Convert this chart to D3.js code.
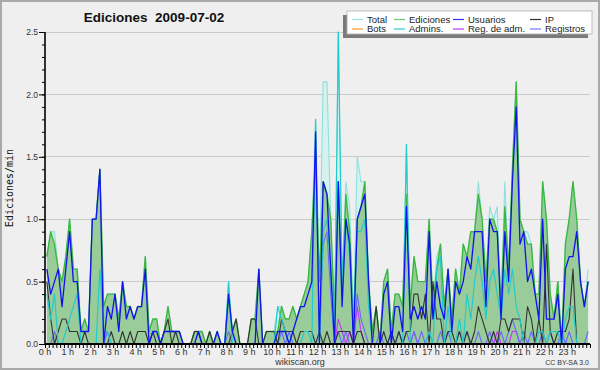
<!DOCTYPE html>
<html><head><meta charset="utf-8">
<script src="https://cdn.jsdelivr.net/npm/d3@7/dist/d3.min.js"></script>
<style>
html,body{margin:0;padding:0;background:#efefef;}
svg{display:block;}
text{font-family:"Liberation Sans",Arial,sans-serif;}
</style></head><body>
<svg id="c" width="600" height="370"></svg>
<script>
// ---- data: 144 ten-minute intervals, edits per minute ----
const hourLabels = ["0 h","1 h","2 h","3 h","4 h","5 h","6 h","7 h","8 h","9 h","10 h","11 h",
  "12 h","13 h","14 h","15 h","16 h","17 h","18 h","19 h","20 h","21 h","22 h","23 h"];
const yTickValues = [0.0, 0.5, 1.0, 1.5, 2.0, 2.5];
const seriesNames = ["Total","Ediciones","Usuarios","IP","Bots","Admins.","Reg. de adm.","Registros"];

const total = [
 0.7,0.9,0.9,0.6,0.5,0.7, 1.0,0.6,0.6,0.1,0.2,0.1, 1.0,1.0,1.4,0.3,0.4,0.4, 0.4,0.2,0.5,0.3,0.3,0.2,
 0.3,0.3,0.7,0.1,0.2,0.2, 0.0,0.1,0.3,0.1,0.1,0.1, 0.0,0.0,0.0,0.1,0.1,0.1, 0.0,0.1,0.0,0.1,0.0,0.0,
 0.5,0.1,0.2,0.0,0.0,0.0, 0.2,0.2,0.6,0.0,0.1,0.1, 0.1,0.3,0.3,0.2,0.2,0.3, 0.2,0.3,0.4,0.5,0.9,1.8,
 0.5,2.1,2.1,1.0,0.2,2.5, 0.5,1.3,1.1,0.2,1.5,1.3, 1.3,0.5,0.1,0.3,0.0,0.5, 0.6,0.1,0.4,0.4,0.3,1.6,
 0.3,0.7,0.5,0.5,0.5,1.0, 0.3,0.7,0.8,0.3,0.6,0.2, 0.6,0.4,0.8,0.7,0.9,0.9, 1.3,1.0,0.5,1.1,1.0,1.1,
 0.3,1.3,0.6,1.4,2.1,1.0, 0.9,0.9,0.8,0.4,0.4,1.3, 1.0,0.4,0.2,0.5,0.0,0.8, 1.0,1.3,1.0,0.5,0.3,0.6];

const ediciones = [
 0.7,0.9,0.8,0.6,0.5,0.7, 1.0,0.6,0.6,0.1,0.2,0.1, 1.0,1.0,1.4,0.3,0.4,0.4, 0.4,0.2,0.5,0.3,0.3,0.2,
 0.3,0.3,0.7,0.1,0.2,0.2, 0.0,0.1,0.3,0.1,0.1,0.1, 0.0,0.0,0.0,0.1,0.1,0.1, 0.0,0.1,0.0,0.1,0.0,0.0,
 0.4,0.1,0.2,0.0,0.0,0.0, 0.2,0.2,0.6,0.0,0.1,0.1, 0.1,0.1,0.3,0.2,0.2,0.3, 0.2,0.3,0.4,0.5,0.9,1.5,
 0.5,1.3,1.2,1.0,0.2,1.3, 0.4,1.2,0.9,0.1,1.0,1.1, 1.3,0.5,0.1,0.3,0.0,0.5, 0.6,0.1,0.4,0.4,0.3,1.2,
 0.3,0.7,0.5,0.5,0.5,1.0, 0.3,0.6,0.8,0.3,0.6,0.2, 0.6,0.4,0.8,0.7,0.9,0.9, 1.2,1.0,0.5,1.0,1.0,0.9,
 0.3,1.1,0.6,1.4,2.1,1.0, 0.9,0.8,0.8,0.4,0.4,1.3, 1.0,0.4,0.2,0.5,0.0,0.8, 1.0,1.3,1.0,0.5,0.3,0.5];

const usuarios = [
 0.6,0.4,0.5,0.6,0.3,0.6, 0.9,0.5,0.5,0.1,0.1,0.1, 1.0,1.0,1.4,0.0,0.3,0.2, 0.4,0.1,0.5,0.2,0.3,0.2,
 0.3,0.3,0.6,0.0,0.1,0.1, 0.0,0.1,0.1,0.1,0.1,0.1, 0.0,0.0,0.0,0.0,0.1,0.0, 0.0,0.0,0.0,0.1,0.0,0.0,
 0.4,0.1,0.0,0.0,0.0,0.0, 0.0,0.0,0.6,0.0,0.0,0.0, 0.0,0.1,0.1,0.1,0.0,0.1, 0.2,0.3,0.3,0.4,0.5,1.7,
 0.0,1.3,1.2,0.6,0.0,1.3, 0.3,1.0,0.8,0.0,1.0,1.1, 1.2,0.5,0.0,0.0,0.0,0.4, 0.5,0.0,0.3,0.3,0.1,1.1,
 0.2,0.3,0.2,0.3,0.2,0.9, 0.2,0.5,0.3,0.2,0.6,0.1, 0.5,0.4,0.5,0.7,0.6,0.9, 0.9,0.9,0.3,1.0,0.9,0.9,
 0.2,0.9,0.5,1.3,1.9,0.8, 0.9,0.5,0.6,0.4,0.2,1.0, 0.2,0.2,0.2,0.4,0.0,0.6, 0.7,0.7,0.9,0.5,0.3,0.5];

const ip = [
 0.5,0.2,0.0,0.1,0.2,0.2, 0.1,0.1,0.1,0.0,0.1,0.0, 0.0,0.0,0.0,0.0,0.0,0.1, 0.0,0.0,0.1,0.0,0.1,0.0,
 0.1,0.1,0.1,0.0,0.1,0.0, 0.0,0.1,0.2,0.0,0.1,0.0, 0.0,0.0,0.0,0.1,0.1,0.0, 0.0,0.1,0.0,0.0,0.0,0.0,
 0.0,0.1,0.2,0.0,0.0,0.0, 0.2,0.2,0.0,0.0,0.1,0.1, 0.1,0.0,0.2,0.1,0.1,0.1, 0.0,0.1,0.1,0.1,0.1,0.0,
 0.1,0.0,0.1,0.0,0.0,0.1, 0.1,0.1,0.1,0.0,0.1,0.1, 0.0,0.0,0.0,0.3,0.0,0.1, 0.0,0.1,0.0,0.1,0.0,0.1,
 0.1,0.4,0.4,0.2,0.4,0.0, 0.5,0.2,0.2,0.0,0.1,0.1, 0.0,0.1,0.0,0.1,0.0,0.1, 0.3,0.2,0.1,0.0,0.1,0.0,
 0.2,0.2,0.1,0.2,0.2,0.2, 0.0,0.3,0.2,0.0,0.2,0.0, 0.8,0.1,0.0,0.1,0.1,0.1, 0.2,0.6,0.0,0.0,0.0,0.0];

const bots = [
 0,0,0,0,0,0, 0,0,0,0,0,0, 0,0,0,0,0,0, 0,0,0,0,0,0,
 0,0,0,0,0,0, 0,0,0,0,0,0, 0,0,0,0,0,0, 0,0,0,0,0,0,
 0,0,0,0,0,0, 0,0,0,0,0,0, 0,0,0,0,0,0, 0,0,0,0,0,0,
 0,0,0,0,0,0, 0,0,0,0,0,0, 0,0,0,0,0,0, 0,0,0,0,0,0,
 0,0,0,0,0,0, 0,0,0,0,0,0, 0,0,0,0,0,0, 0,0,0,0,0,0,
 0,0,0,0,0,0, 0,0,0,0,0,0, 0,0,0,0,0,0, 0,0,0,0,0,0];

const admins = [
 0.4,0.2,0.4,0.0,0.0,0.1, 0.2,0.3,0.4,0.0,0.0,0.0, 0.0,0.0,0.6,0.1,0.1,0.0, 0.0,0.0,0.0,0.0,0.0,0.0,
 0.0,0.0,0.0,0.0,0.0,0.0, 0.0,0.0,0.0,0.0,0.0,0.0, 0.0,0.0,0.0,0.0,0.0,0.0, 0.0,0.0,0.0,0.0,0.0,0.0,
 0.5,0.0,0.0,0.0,0.0,0.0, 0.0,0.0,0.0,0.0,0.0,0.0, 0.0,0.3,0.2,0.1,0.0,0.0, 0.0,0.0,0.1,0.1,0.0,1.8,
 0.0,0.9,1.0,0.6,0.0,2.5, 0.5,1.0,0.7,0.2,0.9,0.9, 1.0,0.3,0.0,0.0,0.0,0.0, 0.0,0.0,0.0,0.0,0.0,1.6,
 0.0,0.0,0.0,0.0,0.0,0.1, 0.0,0.6,0.7,0.0,0.3,0.0, 0.0,0.2,0.0,0.4,0.2,0.5, 0.7,0.5,0.2,0.5,0.6,0.4,
 0.2,0.6,0.4,0.6,0.3,0.2, 0.0,0.0,0.0,0.0,0.1,0.1, 0.0,0.1,0.1,0.1,0.0,0.2, 0.3,0.3,0.0,0.0,0.0,0.0];

const regAdm = [
 0,0,0,0,0,0, 0,0,0,0,0,0, 0,0,0,0,0,0, 0,0,0,0,0,0,
 0,0,0,0,0,0, 0,0,0,0,0,0, 0,0,0,0,0,0, 0,0,0,0,0,0,
 0,0,0,0,0,0, 0,0,0,0,0,0, 0,0,0,0,0,0, 0,0,0,0,0,0,
 0,0,0,0,0,0.2, 0.1,0,0.1,0,0.3,0.1, 0,0,0,0,0,0, 0,0,0,0,0,0,
 0,0.1,0,0,0,0, 0,0,0,0,0,0, 0,0,0,0,0,0, 0,0,0,0,0,0.1,
 0,0,0,0.1,0.1,0, 0,0,0,0,0,0, 0,0,0,0,0,0, 0,0,0,0,0,0];

const registros = [
 0,0,0.1,0,0,0, 0,0,0,0,0,0, 0,0,0,0,0.1,0, 0,0,0,0,0,0,
 0,0,0,0,0,0, 0,0,0,0,0,0, 0,0,0,0,0,0, 0,0,0,0,0,0,
 0.1,0,0,0,0,0, 0,0,0,0,0,0, 0,0,0.1,0,0.1,0, 0,0,0,0,0,0,
 0,0.8,0.9,0.4,0,0.1, 0,0.1,0,0,0.4,0.2, 0.1,0,0,0,0.1,0, 0,0.1,0,0.1,0,0.1,
 0,0.1,0,0.1,0,0.1, 0,0,0.1,0,0.1,0, 0,0.1,0,0.1,0,0, 0.1,0,0,0.1,0,0,
 0.1,0,0.1,0.2,0.1,0, 0.1,0,0.1,0,0,0.1, 0,0.1,0,0,0.1,0, 0.1,0,0,0,0,0.1];

const colors = {
  total:"#8fe0dc", totalFill:"#d6f2ee", ediciones:"#3cb83c", edFill:"#99cc99",
  usuarios:"#1212ee", ip:"#333333", bots:"#ff9922", admins:"#22cccc",
  regAdm:"#cc33ff", registros:"#6a6aff"
};

// ---- drawing ----
const svg = d3.select("#c");
svg.append("rect").attr("x",1).attr("y",1).attr("width",598).attr("height",368)
  .attr("fill","#efefef").attr("stroke","#a9a9a9").attr("stroke-width",2);

const x = d3.scaleLinear().domain([0,24]).range([45,590]);
const y = d3.scaleLinear().domain([0,2.5]).range([344,32]);
const px = (d,i) => x((i+0.5)/6);

// grid
svg.append("g").selectAll("line").data(yTickValues.filter(v=>v>0)).join("line")
  .attr("x1",45).attr("x2",590).attr("y1",d=>y(d)).attr("y2",d=>y(d))
  .attr("stroke","#cacaca").attr("stroke-width",1).attr("shape-rendering","crispEdges");

const area = d3.area().x(px).y0(y(0)).y1(d=>y(d));
const line = d3.line().x(px).y(d=>y(d));

svg.append("path").datum(total).attr("d",area).attr("fill",colors.totalFill);
svg.append("path").datum(ediciones).attr("d",area).attr("fill",colors.edFill);

function ln(data,col,w){
  svg.append("path").datum(data).attr("d",line).attr("fill","none")
    .attr("stroke",col).attr("stroke-width",w).attr("stroke-linejoin","round");
}
ln(total,colors.total,1.1);
ln(ediciones,colors.ediciones,1.4);
ln(bots,colors.bots,1);
ln(regAdm,colors.regAdm,1.1);
ln(registros,colors.registros,1.1);
ln(ip,colors.ip,1.1);
ln(admins,colors.admins,1.2);
ln(usuarios,colors.usuarios,1.3);

// y axis
const minorY = d3.range(0,26).map(k=>k/10);
const gyMinor = svg.append("g").attr("transform","translate(45,0)")
  .call(d3.axisLeft(y).tickValues(minorY).tickSize(3).tickFormat(""));
gyMinor.select(".domain").remove();
gyMinor.selectAll("line").attr("stroke","#000");
const gy = svg.append("g").attr("transform","translate(45,0)")
  .call(d3.axisLeft(y).tickValues(yTickValues).tickSize(6).tickPadding(1).tickFormat(d3.format(".1f")));
gy.select(".domain").attr("stroke","#000").attr("stroke-width",1.6).attr("d","M0,32V344");
gy.selectAll("line").attr("stroke","#000");
gy.selectAll("text").attr("font-size","8.5px").attr("fill","#333")
  .attr("font-family","'Liberation Sans',Arial,sans-serif");

// x axis
const minorX = d3.range(0,145).map(k=>k/6);
const gx = svg.append("g").attr("transform","translate(0,344)")
  .call(d3.axisBottom(x).tickValues(minorX).tickSize(4).tickFormat(""));
gx.select(".domain").attr("stroke","#000").attr("stroke-width",2).attr("d","M45,0H590");
gx.selectAll("line").attr("stroke","#000");
svg.append("g").selectAll("text").data(hourLabels).join("text")
  .attr("x",(d,i)=>x(i)).attr("y",355).attr("text-anchor","middle")
  .attr("font-size","9px").attr("fill","#333").text(d=>d);

// titles
svg.append("text").attr("x",154).attr("y",22).attr("text-anchor","middle")
  .attr("font-size","13.5px").attr("font-weight","bold").attr("fill","#111")
  .style("white-space","pre").text("Ediciones  2009-07-02");
svg.append("text").attr("transform","translate(13,188) rotate(-90)").attr("text-anchor","middle")
  .attr("font-size","10px").attr("fill","#111").style("font-family","'DejaVu Sans Mono',monospace")
  .text("Ediciones/min");
svg.append("text").attr("x",300).attr("y",365).attr("text-anchor","middle")
  .attr("font-size","9px").attr("fill","#333").text("wikiscan.org");
svg.append("text").attr("x",589).attr("y",365).attr("text-anchor","end")
  .attr("font-size","7px").attr("fill","#333").text("CC BY-SA 3.0");

// legend
const lg = svg.append("g");
lg.append("rect").attr("x",343).attr("y",15).attr("width",245).attr("height",23).attr("fill","#7a7a7a");
lg.append("rect").attr("x",347).attr("y",11).attr("width",245).attr("height",23)
  .attr("fill","#fff").attr("stroke","#b0b0b0").attr("stroke-width",0.8);
const legendItems = [
  {n:seriesNames[0], c:"#99e6e2", col:0,row:0},
  {n:seriesNames[1], c:"#66cc66", col:1,row:0},
  {n:seriesNames[2], c:"#3333ff", col:2,row:0},
  {n:seriesNames[3], c:"#333333", col:3,row:0},
  {n:seriesNames[4], c:colors.bots, col:0,row:1},
  {n:seriesNames[5], c:"#33cccc", col:1,row:1},
  {n:seriesNames[6], c:colors.regAdm, col:2,row:1},
  {n:seriesNames[7], c:"#7777ff", col:3,row:1}
];
const colX = [367,409,468,545];
const rowY = [19.5,29];
legendItems.forEach(it=>{
  const tx = colX[it.col], ty = rowY[it.row];
  lg.append("line").attr("x1",tx-15).attr("x2",tx-4).attr("y1",ty).attr("y2",ty)
    .attr("stroke",it.c).attr("stroke-width",1.2);
  lg.append("text").attr("x",tx).attr("y",ty+3.3).attr("font-size","9.5px").attr("fill","#222").text(it.n);
});
</script>
</body></html>
